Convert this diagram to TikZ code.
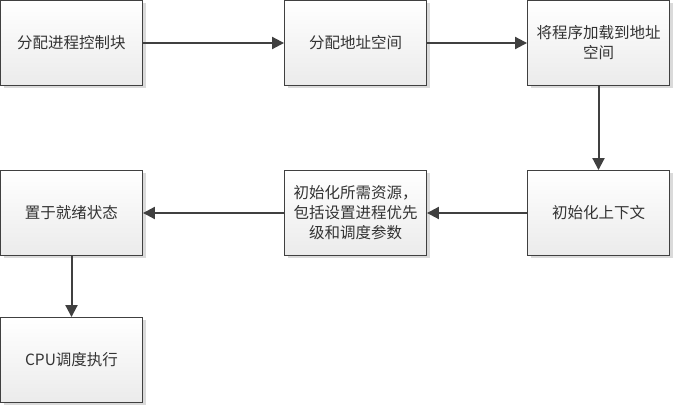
\documentclass[tikz,border=0pt]{standalone}
\usepackage{fontspec}
\newfontfamily\cjk{Noto Sans CJK SC}
\usetikzlibrary{arrows.meta,shadows}
\definecolor{edge}{HTML}{404040}
\definecolor{shd}{HTML}{DADADA}
\definecolor{bot}{HTML}{EBEBEB}
\tikzset{
  box/.style={draw=edge, line width=0.9pt, top color=white, bottom color=bot,
    minimum width=142pt, minimum height=85pt, inner sep=0pt, align=center,
    text width=134pt, text=black!80, font=\cjk\fontsize{15.5}{20}\selectfont,
    drop shadow={shadow xshift=3pt, shadow yshift=-3pt, fill=shd, opacity=1}},
  conn/.style={draw=edge, line width=2pt, -{Triangle[length=12pt,width=12pt]}}
}
\begin{document}
\begin{tikzpicture}[x=1pt,y=1pt]
\useasboundingbox (0,0) rectangle (673,-406);
\node[box] (a) at (71.5,-43) {分配进程控制块};
\node[box] (b) at (355.5,-43) {分配地址空间};
\node[box] (c) at (598.5,-43) {将程序加载到地址\\空间};
\node[box] (d) at (598.5,-213) {初始化上下文};
\node[box] (e) at (355.5,-213) {初始化所需资源，\\包括设置进程优先\\级和调度参数};
\node[box] (f) at (71.5,-213) {置于就绪状态};
\node[box] (g) at (71.5,-360) {CPU调度执行};
\draw[conn] (a) -- (b);
\draw[conn] (b) -- (c);
\draw[conn] (c) -- (d);
\draw[conn] (d) -- (e);
\draw[conn] (e) -- (f);
\draw[conn] (f) -- (g);
\end{tikzpicture}
\end{document}
